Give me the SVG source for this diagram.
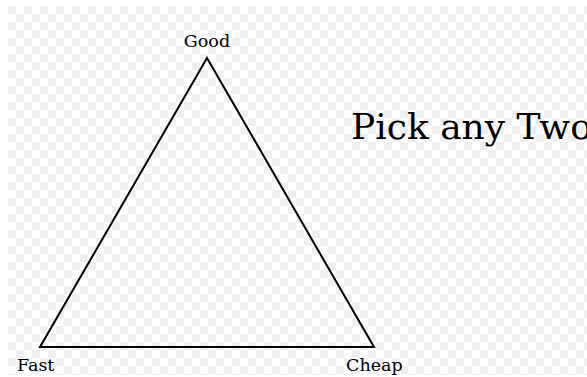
<svg xmlns="http://www.w3.org/2000/svg" width="587" height="377" viewBox="0 0 587 377">
<style>
.lbl{font-family:"DejaVu Serif",serif;font-size:17.5px;fill:#000}
.title{font-family:"DejaVu Serif",serif;font-size:36px;fill:#000}
.edge{fill:none;stroke:#000;stroke-width:2;stroke-linejoin:miter}
</style>
<defs>
<pattern id="chk" x="8" y="6" width="16" height="16" patternUnits="userSpaceOnUse">
<rect width="16" height="16" fill="#ffffff"/>
<rect width="8" height="8" fill="#efefef"/>
<rect x="8" y="8" width="8" height="8" fill="#efefef"/>
</pattern>
</defs>
<rect width="587" height="377" fill="#ffffff"/>
<rect x="8" y="6" width="579" height="369" fill="url(#chk)"/>
<g id="connectors">
<path class="edge" d="M207,58 L40,347 L374,347 Z"/>
</g>
<g id="good"><text class="lbl" x="207" y="47" text-anchor="middle">Good</text></g>
<g id="fast"><text class="lbl" x="17" y="371">Fast</text></g>
<g id="cheap"><text class="lbl" x="346" y="371">Cheap</text></g>
<g id="title"><text class="title" x="351" y="139">Pick any Two</text></g>
</svg>
